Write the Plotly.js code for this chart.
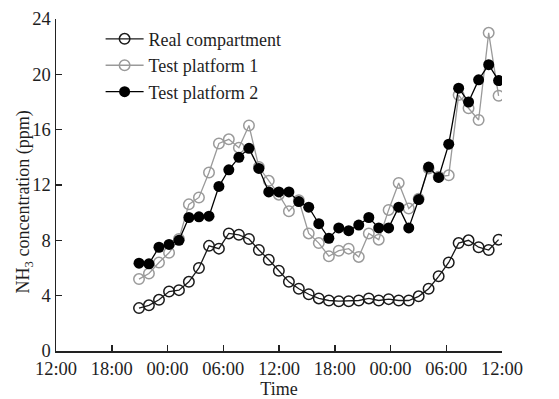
<!DOCTYPE html>
<html>
<head>
<meta charset="utf-8">
<script src="https://cdn.plot.ly/plotly-3.0.1.min.js"></script>
<style>html,body{margin:0;padding:0;background:#fff;}#chart{width:559px;height:399px;}</style>
</head>
<body>
<div id="chart"></div>
<script>
// Sample times (day 1 = 2020-01-01)
var times = [
  "2020-01-01 20:56","2020-01-01 22:00","2020-01-01 23:05","2020-01-02 00:10","2020-01-02 01:14",
  "2020-01-02 02:18","2020-01-02 03:23","2020-01-02 04:28","2020-01-02 05:32","2020-01-02 06:36",
  "2020-01-02 07:41","2020-01-02 08:46","2020-01-02 09:50","2020-01-02 10:54","2020-01-02 11:59",
  "2020-01-02 13:04","2020-01-02 14:08","2020-01-02 15:12","2020-01-02 16:17","2020-01-02 17:22",
  "2020-01-02 18:26","2020-01-02 19:30","2020-01-02 20:35","2020-01-02 21:40","2020-01-02 22:44",
  "2020-01-02 23:48","2020-01-03 00:53","2020-01-03 01:58","2020-01-03 03:02","2020-01-03 04:06",
  "2020-01-03 05:11","2020-01-03 06:16","2020-01-03 07:20","2020-01-03 08:24","2020-01-03 09:29",
  "2020-01-03 10:34","2020-01-03 11:38"
];
var realCompartment = [
  3.1, 3.3, 3.7, 4.3, 4.4, 5.0, 6.0, 7.6, 7.4, 8.5,
  8.4, 8.1, 7.3, 6.6, 5.8, 5.0, 4.5, 4.1, 3.8, 3.65,
  3.6, 3.6, 3.65, 3.8, 3.65, 3.75, 3.65, 3.65, 3.95, 4.5,
  5.4, 6.4, 7.8, 8.0, 7.5, 7.3, 8.05
];
var testPlatform1 = [
  5.2, 5.6, 6.4, 7.1, 8.1, 10.6, 11.1, 12.9, 15.0, 15.3,
  14.7, 16.3, 13.3, 12.3, 11.3, 10.1, 10.9, 8.5, 7.8, 6.85,
  7.25, 7.4, 6.8, 8.5, 8.05, 10.2, 12.15, 10.3, 11.0, 13.2,
  12.6, 12.7, 18.5, 17.55, 16.7, 23.0, 18.45
];
var testPlatform2 = [
  6.35, 6.3, 7.5, 7.7, 8.0, 9.65, 9.7, 9.75, 11.9, 13.1,
  14.0, 14.65, 13.2, 11.5, 11.5, 11.5, 10.8, 10.4, 9.2, 8.15,
  8.9, 8.7, 9.1, 9.65, 8.9, 8.9, 10.4, 8.9, 10.95, 13.3,
  12.55, 14.95, 19.0, 18.0, 19.6, 20.7, 19.55
];
var seriesNames = ["Real compartment", "Test platform 1", "Test platform 2"];
var yTicks = [0, 4, 8, 12, 16, 20, 24];
var xTitle = "Time";
var yTitle = "NH<sub>3</sub> concentration (ppm)";

var FONT = "Liberation Serif, Times New Roman, serif";
var TXT = "#1e1e1e";

var traces = [
  {x: times, y: realCompartment, name: seriesNames[0], type: "scatter", mode: "lines+markers",
   line: {color: "#1a1a1a", width: 1.3},
   marker: {symbol: "circle-open", size: 10.5, color: "#1a1a1a", line: {width: 1.5}}},
  {x: times, y: testPlatform1, name: seriesNames[1], type: "scatter", mode: "lines+markers",
   line: {color: "#9a9a9a", width: 1.3},
   marker: {symbol: "circle-open", size: 10.5, color: "#9a9a9a", line: {width: 1.5}}},
  {x: times, y: testPlatform2, name: seriesNames[2], type: "scatter", mode: "lines+markers",
   line: {color: "#000000", width: 1.3},
   marker: {symbol: "circle", size: 11, color: "#000000"}}
];

var layout = {
  width: 559, height: 399,
  margin: {l: 56, r: 57, t: 19, b: 48},
  paper_bgcolor: "#fff", plot_bgcolor: "#fff",
  font: {family: FONT, size: 18, color: TXT},
  showlegend: true,
  legend: {x: 0.1, y: 0.995, xanchor: "left", yanchor: "top", bgcolor: "rgba(0,0,0,0)",
           font: {family: FONT, size: 18, color: TXT}, tracegroupgap: 0, itemwidth: 38},
  xaxis: {
    type: "date",
    range: ["2020-01-01 12:00", "2020-01-03 12:00"],
    tick0: "2020-01-01 12:00", dtick: 21600000, tickformat: "%H:%M",
    showgrid: false, zeroline: false,
    showline: true, linecolor: "#222", linewidth: 1.5,
    ticks: "inside", ticklen: 6, tickcolor: "#222", tickwidth: 1.5,
    tickfont: {family: FONT, size: 18.5, color: TXT},
    title: {text: xTitle, font: {family: FONT, size: 18, color: TXT}, standoff: 0}
  },
  yaxis: {
    range: [0, 24], tickvals: yTicks,
    showgrid: false, zeroline: false,
    showline: true, linecolor: "#222", linewidth: 1.5,
    ticks: "inside", ticklen: 6, tickcolor: "#222", tickwidth: 1.5,
    tickfont: {family: FONT, size: 18.5, color: TXT}
  },
  annotations: [{
    text: yTitle, xref: "paper", yref: "paper", x: -0.07, y: 0.45,
    xanchor: "center", yanchor: "middle", textangle: -90, showarrow: false,
    font: {family: FONT, size: 18, color: TXT}
  }]
};

Plotly.newPlot("chart", traces, layout, {staticPlot: true, displayModeBar: false});
</script>
</body>
</html>
